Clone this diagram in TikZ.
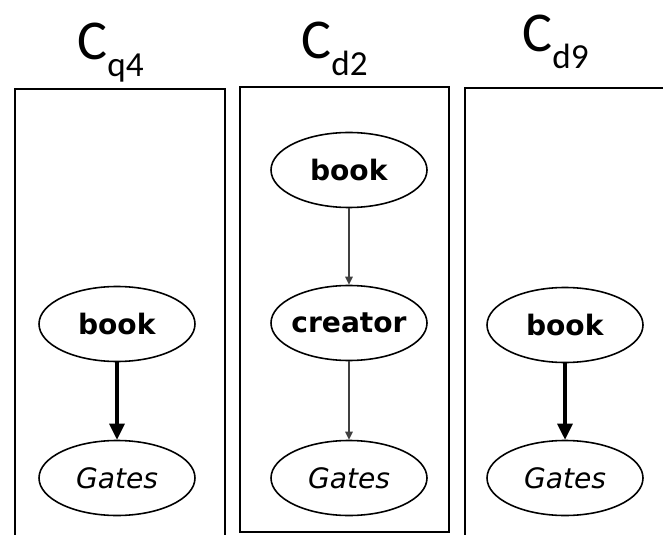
\documentclass[tikz,border=0pt]{standalone}
\usepackage{fontspec}
\setmainfont{DejaVu Sans}
\newfontfamily\titlefont{Carlito}
\usetikzlibrary{shapes.geometric,arrows.meta}
\newcommand{\csub}[1]{\raisebox{-0.34cm}{\fontsize{20}{24}\selectfont #1}}
\tikzset{
  term/.style={draw, ellipse, line width=0.9pt, minimum width=3.12cm, minimum height=1.5cm, inner sep=0pt, font=\fontsize{16}{20}\selectfont},
  panel/.style={line width=1.1pt},
  title/.style={anchor=base west, inner sep=0pt, font=\titlefont\fontsize{32}{38}\selectfont},
  heavy/.style={line width=1.8pt, -{Triangle[length=0.32cm,width=0.3cm]}},
  light/.style={line width=0.85pt, draw=black!75, -{Triangle[length=0.16cm,width=0.15cm]}}
}
\begin{document}
\begin{tikzpicture}
\useasboundingbox (0,0) rectangle (13.26,10.68);
\begin{scope}
\node[title](T) at (1.54,9.48){C\csub{q4}};
\draw[panel] (0.30,-0.1) -- (0.30,8.90) -- (4.50,8.90) -- (4.50,-0.1);
\node[term](A) at (2.34,4.20){\textbf{book}};
\node[term](B) at (2.34,1.12){\textit{Gates}};
\draw[heavy](A) to (B);
\end{scope}
\begin{scope}
\node[title](T) at (6.02,9.50){C\csub{d2}};
\draw[panel] (4.80,0.04) rectangle (8.98,8.94);
\node[term](A) at (6.98,7.28){\textbf{book}};
\node[term](B) at (6.98,4.22){\makebox[0pt]{\textbf{creator}}};
\node[term](C) at (6.98,1.12){\textit{Gates}};
\draw[light](A) to (B);
\draw[light](B) to (C);
\end{scope}
\begin{scope}
\node[title](T) at (10.44,9.64){C\csub{d9}};
\draw[panel] (9.30,-0.1) -- (9.30,8.92) -- (13.4,8.92);
\node[term](A) at (11.30,4.18){\textbf{book}};
\node[term](B) at (11.30,1.12){\textit{Gates}};
\draw[heavy](A) to (B);
\end{scope}
\end{tikzpicture}
\end{document}
